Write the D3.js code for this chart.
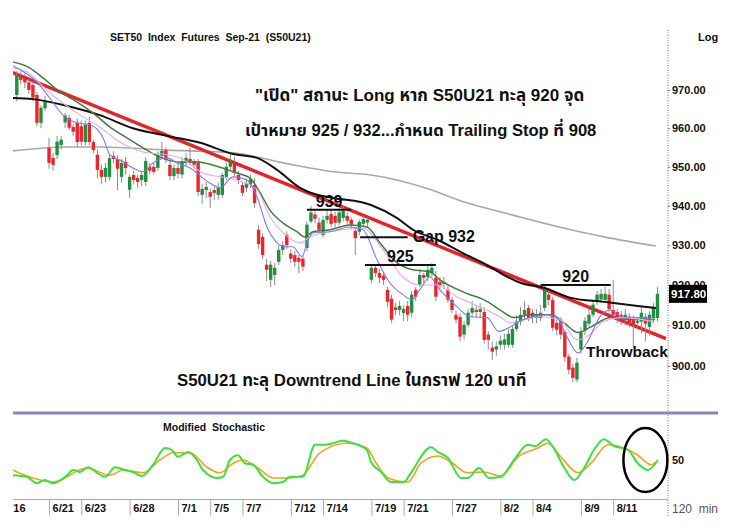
<!DOCTYPE html>
<html>
<head>
<meta charset="utf-8">
<script src="https://cdn.jsdelivr.net/npm/d3@7"></script>
<style>
body { margin: 0; background: #fff; }
svg text { font-family: "Liberation Sans", Arial, "Noto Sans Thai", "Noto Sans", sans-serif; font-weight: bold; fill: #111; white-space: pre; }
</style>
</head>
<body>
<svg id="chart" width="742" height="532"></svg>
<script>
// ---- data ----
const tradingDays = ['6/16','6/17','6/18','6/21','6/22','6/23','6/24','6/25','6/28','6/29','6/30',
  '7/1','7/2','7/5','7/6','7/7','7/8','7/9','7/12','7/13','7/14','7/15','7/16','7/19','7/20','7/21',
  '7/22','7/23','7/27','7/29','7/30','8/2','8/3','8/4','8/5','8/6','8/9','8/10','8/11','8/13','8/16'];
const labeledDays = ['6/16','6/21','6/23','6/28','7/1','7/5','7/7','7/12','7/14','7/19','7/21','7/27','8/2','8/4','8/9','8/11'];
const barsPerDay = 4;

// 120 min bars, [open, high, low, close], starting 6/17
const bars = [
  [968.7,975.0,967.0,973.9],[973.9,975.0,971.5,972.6],[973.5,974.5,970.5,972.0],[972.0,973.0,969.0,970.0],
  [971.3,972.0,967.0,968.0],[968.7,969.5,960.5,961.4],[961.4,966.0,960.0,965.3],[965.2,968.5,964.5,966.8],
  [954.9,957.5,949.5,951.0],[952.3,953.5,949.0,950.5],[953.0,958.0,952.0,956.5],[955.6,958.0,954.5,957.0],
  [961.5,964.0,960.0,963.3],[962.7,963.5,959.5,960.1],[960.3,961.0,958.0,959.1],[961.4,962.5,955.0,956.4],
  [960.5,962.0,955.5,956.5],[956.4,962.0,955.5,960.9],[961.4,963.0,955.5,956.4],[956.4,957.0,953.5,954.3],
  [953.1,954.5,947.0,949.2],[949.2,950.5,945.5,947.4],[947.4,951.0,946.0,949.7],[947.4,953.0,946.5,952.2],
  [952.8,954.0,951.0,952.0],[952.0,953.0,944.0,949.5],[947.4,952.0,946.0,951.0],[951.3,952.5,948.0,949.7],
  [944.1,948.0,942.0,947.4],[947.9,949.0,945.5,946.6],[947.1,948.0,944.5,946.1],[946.6,949.0,945.0,947.9],
  [946.1,952.5,945.0,951.5],[950.0,951.0,948.0,949.0],[950.0,951.0,948.0,948.7],[949.7,954.0,949.0,953.1],
  [952.8,956.5,952.0,954.1],[954.3,955.0,951.0,951.8],[950.5,951.5,946.5,947.6],[947.6,950.5,946.5,949.7],
  [949.7,951.0,947.0,948.2],[948.0,952.5,947.0,951.3],[951.0,953.5,950.0,952.3],[952.0,955.0,950.5,951.3],
  [951.5,952.0,949.5,950.5],[951.3,952.0,942.5,943.5],[942.8,945.5,940.5,944.3],[944.0,946.0,942.0,944.8],
  [943.5,944.5,939.5,942.3],[944.0,945.0,941.5,943.3],[942.8,946.0,941.5,944.6],[942.8,948.5,942.0,947.9],
  [947.4,951.0,946.5,950.0],[950.0,953.5,949.0,951.8],[951.3,952.5,947.5,948.4],[947.9,949.0,945.5,946.6],
  [945.3,946.0,942.5,943.3],[944.6,947.0,943.5,945.8],[945.5,948.0,944.5,946.8],[945.3,947.0,939.5,940.7],
  [933.9,935.0,929.0,930.3],[932.1,933.0,926.5,927.5],[925.1,926.5,921.0,923.8],[921.3,926.0,919.5,925.1],
  [922.5,925.5,920.0,924.3],[925.8,930.0,925.0,928.8],[928.8,931.0,927.5,930.0],[932.6,933.5,929.0,930.0],
  [927.9,929.0,925.5,926.6],[927.5,928.5,924.5,925.8],[926.8,927.5,923.0,925.8],[926.6,927.5,923.5,924.6],
  [929.3,936.0,928.5,935.2],[936.0,940.0,935.5,938.3],[937.8,939.0,935.5,936.7],[935.7,937.0,933.0,933.9],
  [932.6,937.5,932.0,936.4],[936.4,939.0,935.5,937.4],[937.9,939.0,934.5,935.4],[937.4,938.5,934.5,935.7],
  [935.7,939.5,935.0,938.3],[936.9,940.0,936.0,938.8],[937.4,938.5,935.0,936.2],[936.4,937.0,934.0,935.2],
  [933.6,934.5,927.5,931.8],[933.4,936.5,932.5,935.9],[935.4,937.5,934.5,936.6],[935.7,937.0,934.5,936.4],
  [921.3,925.0,920.5,924.3],[924.3,925.0,922.0,923.0],[923.0,924.0,920.5,921.8],[922.3,923.0,920.0,921.3],
  [918.8,919.5,914.5,915.8],[916.6,917.5,910.5,911.4],[914.4,915.5,912.5,913.8],[913.8,916.0,912.5,914.8],
  [913.0,915.0,911.0,914.0],[914.8,916.0,911.0,912.6],[913.1,918.5,912.0,917.6],[918.8,919.5,916.0,917.1],
  [920.0,924.0,919.5,922.5],[922.5,923.0,920.5,921.8],[922.0,925.0,921.0,923.8],[923.0,925.5,922.0,924.3],
  [921.8,923.5,916.0,917.1],[920.8,922.0,919.0,920.0],[920.3,922.0,919.0,920.8],[918.8,920.0,915.5,916.3],
  [916.3,917.0,913.0,913.8],[912.6,913.5,910.5,911.4],[912.1,913.0,906.0,907.2],[907.7,911.0,906.5,910.1],
  [910.1,914.0,909.5,913.1],[913.1,916.0,912.0,914.3],[913.8,915.0,912.0,913.3],[913.3,915.5,912.0,914.0],
  [913.3,914.5,905.5,906.4],[907.7,908.5,904.0,906.4],[904.5,906.0,901.5,903.5],[904.0,906.0,902.5,904.8],
  [905.2,907.5,904.0,906.2],[905.2,908.0,904.0,906.5],[905.2,909.0,904.5,907.9],[905.2,910.0,904.5,909.1],
  [909.1,912.5,908.5,911.1],[910.9,914.5,910.0,912.6],[912.6,916.0,911.5,913.8],[914.3,915.0,911.0,911.8],
  [913.1,914.0,910.5,911.8],[911.8,914.0,910.5,912.6],[911.8,915.0,911.0,913.1],[914.3,920.0,913.5,918.8],
  [917.6,918.5,915.0,916.3],[916.3,917.0,908.5,909.4],[910.6,911.5,907.5,908.9],[911.4,912.0,906.5,907.7],
  [908.4,909.0,901.0,902.2],[902.3,903.0,898.0,899.1],[899.6,900.5,896.0,897.1],[896.7,902.0,896.0,900.8],
  [904.0,909.5,903.0,908.2],[908.7,912.0,907.5,911.1],[910.4,914.0,909.5,912.6],[912.6,916.0,912.0,915.1],
  [915.8,918.5,915.0,917.6],[916.4,919.0,915.5,917.8],[916.3,919.5,915.5,917.8],[917.6,919.0,913.0,914.0],
  [913.8,921.3,911.5,912.6],[913.3,914.0,910.5,911.4],[912.6,913.5,910.0,910.9],[911.4,914.0,910.0,912.6],
  [912.1,913.0,909.5,910.6],[911.8,912.5,904.5,910.1],[910.6,912.0,909.5,911.1],[910.9,914.5,908.0,913.1],
  [912.1,913.0,906.0,910.4],[909.6,913.5,907.5,912.6],[911.8,915.5,910.5,914.5],[911.8,919.5,911.0,917.8]
];
const lastPrice = 917.80;
const priceTicks = [900, 910, 920, 930, 940, 950, 960, 970];

// moving averages, [bar, price]
const maBlue = [[-1,976.4],[5,972.1],[8.2,967.9],[11.5,963.4],[14.9,961.4],[18.2,960.9],[21.4,957.5],[23.1,953.1],
  [26.4,951.3],[28.8,949.7],[31.3,948.7],[33.8,951.0],[37.3,952.3],[39.8,951.0],[43,949.7],[47.9,945.8],[50.4,944.6],
  [53.7,947.4],[57.1,946.6],[59.6,942.3],[62.1,934.6],[64.6,930.6],[66.6,929.6],[68.5,929.6],[70.8,927.1],[72,930.6],
  [73.5,933.1],[77.7,933.4],[82.7,934.6],[85.9,933.9],[89.4,926.3],[92.6,920.5],[95.8,917.6],[98.1,916.3],[100,918.8],
  [102.5,922.0],[105,918.8],[109.2,914.6],[112.5,912.1],[116.7,911.9],[119.6,908.5],[125.6,911.4],[131.6,912.6],
  [134,911.9],[136.5,907.2],[139.3,903.2],[141.5,905.7],[144.7,912.1],[147.2,913.8],[150.4,912.1],[154.6,911.9],[158,911.4]];
const maPink = [[-1,975.8],[2.5,974.8],[8.2,969.2],[14.9,964.0],[20.6,960.3],[25.6,956.4],[31.3,953.8],[37.3,953.1],
  [40.5,952.3],[46.2,948.4],[54.6,946.6],[59.6,944.1],[62.8,937.2],[66.1,933.1],[70.3,930.6],[72.8,932.1],[77.7,933.4],
  [85.9,934.3],[90.9,928.8],[95.8,922.0],[100,920.0],[104.3,920.0],[109.2,917.1],[114.9,914.6],[119.9,912.1],
  [122.4,910.6],[129.8,912.1],[134.8,911.4],[139,906.4],[142.2,907.7],[145.5,910.9],[150.4,911.9],[158,910.9]];
const maGreen = [[-1,977.4],[3.3,975.8],[6.5,973.2],[10.7,969.5],[14.9,966.9],[18.9,964.0],[23.1,960.3],[27.3,957.5],
  [31.3,954.9],[35.5,952.5],[40.5,951.2],[44.7,951.2],[50.4,949.9],[54.6,948.4],[57.9,947.1],[60.4,943.3],[62.8,938.9],
  [66.1,935.6],[69.5,933.4],[71.5,932.1],[73.5,933.4],[77.7,933.9],[82.7,935.1],[86.9,934.6],[90.1,930.6],[94.3,925.6],
  [98.3,923.8],[102.5,923.3],[105,921.3],[110.7,918.3],[116.9,915.8],[119.9,913.8],[123.4,911.9],[127.6,912.6],
  [132.6,912.6],[135.8,910.6],[139.3,908.2],[142.5,909.6],[147.4,911.9],[152.4,911.4],[158.4,911.4]];
const maBlack = [[-1,967.9],[4,967.6],[12.5,965.8],[20.6,963.4],[28.8,960.0],[37.3,958.0],[45.5,956.2],[53.7,953.3],
  [59.6,952.3],[64.6,949.2],[70.3,944.6],[74.5,942.8],[78.5,942.0],[87.9,940.2],[94.3,936.9],[98.3,933.9],[104.5,931.3],
  [110.7,928.0],[116.7,925.0],[120.9,922.5],[125.1,920.5],[130.8,919.3],[137.5,916.8],[145.7,915.8],[154.1,914.8],[158.6,914.3]];
const maGray = [[-1,954.1],[12.5,955.1],[20.6,955.1],[37.3,954.3],[53.7,953.6],[66.1,951.0],[78.5,948.7],[87.9,947.9],
  [102.8,944.1],[109.5,941.5],[120.9,938.2],[137.5,933.9],[145.7,932.1],[158.6,929.8]];
const trendLine = [[-1, 974.6], [161.1, 906.7]];

// price levels drawn on the chart
const levels = [
  {label: '939', price: 939, from: 72, to: 83},
  {label: 'Gap 932', price: 932, from: 85.2, to: 97},
  {label: '925', price: 925, from: 86.4, to: 104},
  {label: '920', price: 920, from: 130, to: 147.4}
];

// modified stochastic, [bar, value]
const stochK = [[-1,31],[2.5,29],[5,21],[7,25],[9,21],[12.5,31],[13.9,37.5],[15.7,35],[17.7,41],[19.9,34],[21.9,29],
  [24.4,41],[26.8,37.5],[28.8,35],[31.1,30],[33.8,44],[36.8,65],[38.5,62.5],[40,54],[42.5,60],[44.7,50],[46.2,37.5],
  [49.7,27.5],[51.2,29],[52.9,50],[54.9,56],[56.6,46],[58.6,44],[61.1,29],[63.6,21],[66.1,22.5],[67.8,29],[71,29],
  [74,69],[76.5,69],[78.5,71],[80.9,74],[83.4,71],[86.9,62.5],[87.9,47.5],[90.4,35],[92.9,22.5],[96.1,22.5],[97.8,34],
  [102.8,66],[104.5,60],[107,52.5],[110.2,27.5],[111.9,27.5],[114.7,40],[117.2,27.5],[120.1,29],[123.4,50],[126.8,69],
  [128.8,67.5],[131.3,76],[133.1,66],[135.8,41],[138.3,25],[140.8,40],[143.2,62.5],[145.7,76],[148.2,67.5],[151.7,62.5],
  [154.1,46],[156.6,37.5],[159.1,50]];
const stochD = [[-1,37.5],[4,27.5],[9,22.5],[17.4,40],[23.1,31],[26.4,37.5],[31.3,34],[35.5,50],[38.8,59],[43,59],
  [47.2,41],[50.4,34],[53.7,46],[56.1,50],[59.6,41],[63.6,27.5],[67.8,27.5],[71,31],[75.2,59],[81.9,71],[86.9,65],
  [89,47.5],[92.2,27.5],[97.1,22.5],[100.3,46],[104.5,55],[107.7,47.5],[111.9,34],[115.9,35],[120.1,30],[124.4,54],
  [129.3,65],[131.8,71],[135,54],[139.3,34],[142.5,46],[146.7,69],[150.7,65],[154.1,56],[157.4,44],[158.6,47.5]];

// ---- drawing ----
const svg = d3.select('#chart');

const x = d3.scaleLinear().domain([0, bars.length - 1]).range([16.8, 657.5]);
const y = d3.scaleLog().domain([900, 970]).range([366, 90]);
const ys = d3.scaleLinear().domain([0, 100]).range([500, 420]);

const defs = svg.append('defs');
defs.append('clipPath').attr('id', 'clipMain')
  .append('rect').attr('x', 13).attr('y', 15).attr('width', 654).attr('height', 395);
defs.append('clipPath').attr('id', 'clipSub')
  .append('rect').attr('x', 13).attr('y', 416).attr('width', 654).attr('height', 83);
// clip for the date axis, in the axis group's own coordinates
defs.append('clipPath').attr('id', 'clipAxis')
  .append('rect').attr('x', 13).attr('y', -5).attr('width', 655).attr('height', 40);

const main = svg.append('g').attr('clip-path', 'url(#clipMain)');

const line = d3.line().x(d => x(d[0])).y(d => y(d[1])).curve(d3.curveMonotoneX);

main.append('path').attr('d', line(maGray))
  .attr('fill', 'none').attr('stroke', '#a9a9a9').attr('stroke-width', 1.6);

main.append('path').attr('d', d3.line().x(d => x(d[0])).y(d => y(d[1]))(trendLine))
  .attr('fill', 'none').attr('stroke', '#e4232b').attr('stroke-width', 3.4);

// candles
const candle = main.selectAll('.candle').data(bars).enter().append('g');
candle.append('line')
  .attr('x1', (d, i) => x(i)).attr('x2', (d, i) => x(i))
  .attr('y1', d => y(d[1])).attr('y2', d => y(d[2]))
  .attr('stroke', '#8c8c8c').attr('stroke-width', 1);
candle.append('rect')
  .attr('x', (d, i) => x(i) - 1.7).attr('width', 3.4)
  .attr('y', d => y(Math.max(d[0], d[3])))
  .attr('height', d => Math.max(1, Math.abs(y(d[0]) - y(d[3]))))
  .attr('fill', d => d[3] >= d[0] ? '#1e9040' : '#f0222a');

main.append('path').attr('d', line(maBlack))
  .attr('fill', 'none').attr('stroke', '#111').attr('stroke-width', 2);
main.append('path').attr('d', line(maGreen))
  .attr('fill', 'none').attr('stroke', '#3f7d3f').attr('stroke-width', 1.5);
main.append('path').attr('d', line(maPink))
  .attr('fill', 'none').attr('stroke', '#e9a9e9').attr('stroke-width', 1.1);
main.append('path').attr('d', line(maBlue))
  .attr('fill', 'none').attr('stroke', '#7b7bee').attr('stroke-width', 1.1);

// level lines and labels
levels.forEach(lv => {
  svg.append('line')
    .attr('x1', x(lv.from)).attr('x2', x(lv.to))
    .attr('y1', y(lv.price)).attr('y2', y(lv.price))
    .attr('stroke', '#111').attr('stroke-width', 2);
  const t = svg.append('text').text(lv.label).style('font-size', '16px');
  if (lv.label.startsWith('Gap')) {
    t.attr('x', x(lv.to) + 5).attr('y', y(lv.price) + 5);
  } else {
    t.attr('x', (x(lv.from) + x(lv.to)) / 2).attr('y', y(lv.price) - 3).attr('text-anchor', 'middle');
  }
});

svg.append('text').text('Throwback').attr('x', 586).attr('y', 357).style('font-size', '15.5px');

// captions
svg.append('text').text('SET50  Index  Futures  Sep-21  (S50U21)')
  .attr('x', 110).attr('y', 41).style('font-size', '10.5px');
svg.append('text').text('"เปิด" สถานะ Long หาก S50U21 ทะลุ 920 จุด')
  .attr('x', 255).attr('y', 101).style('font-size', '17px');
svg.append('text').text('เป้าหมาย 925 / 932...กำหนด Trailing Stop ที่ 908')
  .attr('x', 245).attr('y', 136).style('font-size', '16.6px');
svg.append('text').text('S50U21 ทะลุ Downtrend Line ในกราฟ 120 นาที')
  .attr('x', 177).attr('y', 386).style('font-size', '16.8px');

// right price axis
const yAxis = svg.append('g').attr('transform', 'translate(668,0)')
  .call(d3.axisRight(y).tickValues(priceTicks).tickFormat(d3.format('.2f')).tickSize(2));
yAxis.select('.domain').remove();
yAxis.selectAll('line').attr('stroke', '#777');
yAxis.selectAll('text').attr('x', 4).style('font-size', '11px').style('font-family', '"Liberation Sans", Arial, sans-serif').attr('fill', '#222');
svg.append('line').attr('x1', 668).attr('x2', 668).attr('y1', 30).attr('y2', 517)
  .attr('stroke', '#777').attr('stroke-dasharray', '1,1.5');
svg.append('text').text('Log').attr('x', 698).attr('y', 41).style('font-size', '11px');

// last price box
svg.append('rect').attr('x', 669).attr('y', y(lastPrice) - 9).attr('width', 38).attr('height', 18).attr('fill', '#000');
svg.append('text').text(d3.format('.2f')(lastPrice)).attr('x', 671).attr('y', y(lastPrice) + 4.5)
  .style('font-size', '11.5px').style('fill', '#fff');

// separator
svg.append('rect').attr('x', 13).attr('y', 411.5).attr('width', 705).attr('height', 3).attr('fill', '#8585c2');

// stochastic panel
svg.append('text').text('Modified  Stochastic').attr('x', 163).attr('y', 431).style('font-size', '10.5px');
const sub = svg.append('g').attr('clip-path', 'url(#clipSub)');
const sline = d3.line().x(d => x(d[0])).y(d => ys(d[1])).curve(d3.curveMonotoneX);
sub.append('path').attr('d', sline(stochD)).attr('fill', 'none').attr('stroke', '#f4a11e').attr('stroke-width', 1.6);
sub.append('path').attr('d', sline(stochK)).attr('fill', 'none').attr('stroke', '#39e23c').attr('stroke-width', 2);
svg.append('text').text('50').attr('x', 672).attr('y', ys(50) + 4).style('font-size', '11px');
svg.append('ellipse').attr('cx', x(156)).attr('cy', ys(50)).attr('rx', 22).attr('ry', 32)
  .attr('fill', 'none').attr('stroke', '#000').attr('stroke-width', 2.5);

// date axis
svg.append('line').attr('x1', 13).attr('x2', 668).attr('y1', 499.5).attr('y2', 499.5).attr('stroke', '#aaa');
const dayBar = d => (tradingDays.indexOf(d) - 1) * barsPerDay;
const xAxis = svg.append('g').attr('transform', 'translate(0,499.5)').attr('clip-path', 'url(#clipAxis)')
  .call(d3.axisBottom(x).tickValues(labeledDays.map(dayBar))
    .tickFormat(v => labeledDays.find(d => dayBar(d) === v)).tickSize(16));
xAxis.select('.domain').remove();
xAxis.selectAll('line').attr('stroke', '#aaa');
xAxis.selectAll('text').attr('text-anchor', 'start').attr('x', 3).attr('y', 5)
  .style('font-size', '11px').style('font-family', '"Liberation Sans", Arial, sans-serif').attr('fill', '#222');
svg.append('text').text('120  min').attr('x', 672).attr('y', 513)
  .style('font-size', '12px').style('font-weight', 'normal').style('fill', '#555');
</script>
</body>
</html>
